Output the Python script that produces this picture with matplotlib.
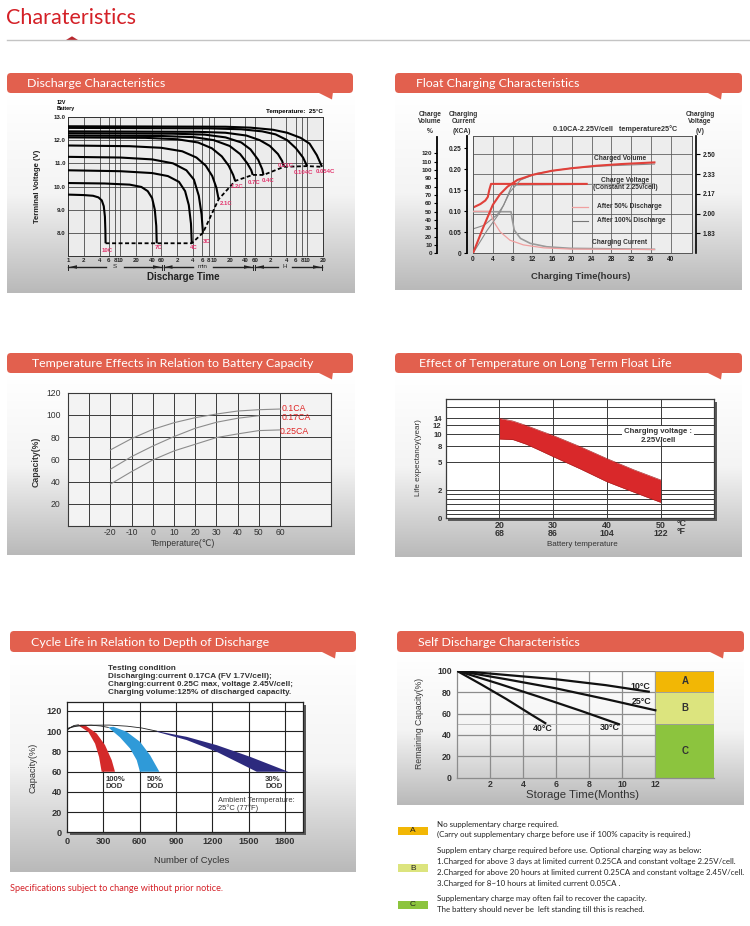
import numpy as np
import matplotlib
matplotlib.use('Agg')
import matplotlib.pyplot as plt
from matplotlib.patches import FancyBboxPatch, Polygon, Rectangle
from matplotlib.colors import LinearSegmentedColormap
from matplotlib.ticker import NullLocator

plt.rcParams['font.family'] = ['Liberation Sans', 'DejaVu Sans']
plt.rcParams['axes.unicode_minus'] = False

# ======================= DATA =======================
page_title = "Charateristics"

# --- Discharge characteristics (time in seconds, terminal voltage in V)
dis_rate_labels = ['10C', '7C', '4C', '3C', '2.1C', '1.2C', '0.7C', '0.4C', '0.21C', '0.104C', '0.054C']
dis_time_s = [
    [1, 2, 3, 3.8, 4.4, 4.8, 5.05, 5.15, 5.2],
    [1, 5, 15, 25, 33, 40, 45, 48, 49],
    [1, 10, 40, 80, 130, 170, 200, 220, 228],
    [1, 10, 40, 100, 180, 250, 310, 350, 372],
    [1, 15, 60, 150, 280, 420, 560, 670, 740],
    [1, 30, 120, 300, 550, 850, 1150, 1400, 1530],
    [1, 60, 250, 600, 1200, 1900, 2600, 3100, 3300],
    [1, 100, 400, 1000, 2000, 3000, 4200, 5000, 5300],
    [1, 300, 1000, 2500, 4500, 7000, 10000, 12000, 13000],
    [1, 500, 2000, 5000, 9000, 15000, 22000, 30000, 35800],
    [1, 1000, 3000, 8000, 15000, 27000, 40000, 55000, 69000],
]
dis_volt = [
    [9.65, 9.63, 9.6, 9.53, 9.4, 9.15, 8.7, 8.1, 7.55],
    [10.15, 10.13, 10.08, 9.98, 9.8, 9.5, 9.0, 8.3, 7.55],
    [10.7, 10.66, 10.58, 10.45, 10.2, 9.8, 9.2, 8.4, 7.55],
    [11.28, 11.25, 11.17, 11.0, 10.7, 10.3, 9.6, 8.8, 8.0],
    [11.77, 11.74, 11.67, 11.52, 11.25, 10.9, 10.45, 9.95, 9.45],
    [12.12, 12.1, 12.04, 11.9, 11.65, 11.3, 10.9, 10.5, 10.24],
    [12.2, 12.18, 12.13, 12.0, 11.75, 11.4, 11.0, 10.7, 10.5],
    [12.3, 12.28, 12.24, 12.12, 11.9, 11.6, 11.15, 10.75, 10.5],
    [12.38, 12.36, 12.32, 12.2, 12.0, 11.75, 11.4, 11.1, 10.85],
    [12.53, 12.51, 12.47, 12.38, 12.25, 12.0, 11.65, 11.25, 10.88],
    [12.6, 12.58, 12.54, 12.45, 12.32, 12.1, 11.85, 11.35, 10.85],
]
dis_xticks_s = [1, 2, 4, 6, 8, 10, 20, 40, 60,
                120, 240, 360, 480, 600, 1200, 2400, 3600,
                7200, 14400, 21600, 28800, 36000, 72000]
dis_xtick_labels = ['1', '2', '4', '6', '8', '10', '20', '40', '60',
                    '2', '4', '6', '8', '10', '20', '40', '60',
                    '2', '4', '6', '8', '10', '20']
dis_yticks = [8, 9, 10, 11, 12, 13]
dis_ytick_labels = ['8.0', '9.0', '10.0', '11.0', '12.0', '13.0']

# --- Float charging characteristics (hours)
fc_h_vol50 = [0, 2, 4, 5.5, 7, 9, 12, 16, 20, 25, 30, 36.7]
fc_pct_vol50 = [0, 30, 58, 71, 80, 88, 94, 99, 102, 105, 107, 109]
fc_h_vol100 = [0, 2.8, 5.5, 7.5, 9.6, 12.9, 19.7, 26.4, 36.7]
fc_pct_vol100 = [0, 27, 49.5, 73.7, 87.8, 95.9, 102, 104.7, 107]
fc_h_v50 = [0, 1.5, 2.5, 3.0, 3.3, 3.65, 23]
fc_volt_v50 = [2.05, 2.08, 2.11, 2.14, 2.2, 2.25, 2.25]
fc_h_v100 = [0, 2.2, 4.9, 6.2, 7.2, 7.9, 36.7]
fc_volt_v100 = [1.87, 1.90, 1.99, 2.07, 2.17, 2.24, 2.25]
fc_h_i50 = [0, 3.2, 3.6, 4.2, 5.5, 7.5, 10.2, 14.3, 19.7, 36.7]
fc_cur_i50 = [0.10, 0.10, 0.093, 0.075, 0.051, 0.031, 0.020, 0.013, 0.010, 0.009]
fc_h_i100 = [0, 7.7, 7.9, 8.35, 9.6, 11.6, 14.9, 19.7, 36.7]
fc_cur_i100 = [0.099, 0.099, 0.083, 0.055, 0.0355, 0.0236, 0.0156, 0.0118, 0.0095]
fc_xticks = [0, 4, 8, 12, 16, 20, 24, 28, 32, 36, 40]
fc_cur_ticks = [0, 0.05, 0.10, 0.15, 0.20, 0.25]
fc_cur_labels = ['0', '0.05', '0.10', '0.15', '0.20', '0.25']
fc_pct_ticks = [0, 10, 20, 30, 40, 50, 60, 70, 80, 90, 100, 110, 120]
fc_volt_ticks = [1.8333, 2.0, 2.1667, 2.3333, 2.5]
fc_volt_labels = ['1.83', '2.00', '2.17', '2.33', '2.50']

# --- Temperature effects on capacity
te_temp = [-20, -10, 0, 10, 20, 30, 40, 50, 60]
te_cap_01 = [68.5, 78.7, 87, 93, 97.5, 100.8, 103.5, 104.7, 105.3]
te_temp_017 = [-20, -10, 0, 10, 20, 30, 40, 50]
te_cap_017 = [51.1, 62.5, 72, 80.5, 88, 93.4, 97, 99.3]
te_cap_025 = [37.7, 49, 59.5, 67.6, 73.6, 79.6, 82.9, 85.9, 86.5]
te_labels = ['0.1CA', '0.17CA', '0.25CA']
te_xticks = [-20, -10, 0, 10, 20, 30, 40, 50, 60]
te_yticks = [20, 40, 60, 80, 100, 120]

# --- Float life vs temperature
fl_temp = [20, 22.5, 25, 27.5, 30, 35, 40, 45, 50]
fl_upper = [14, 13.2, 11.9, 10.8, 9.8, 7.9, 5.7, 4.2, 3.1]
fl_lower = [9.2, 9.1, 8.3, 7.2, 6.05, 4.3, 2.9, 1.85, 1.13]
fl_yticks = [0, 2, 5, 8, 10, 12, 14]
fl_xticks = [20, 30, 40, 50]
fl_xtick_labels = ['20\n68', '30\n86', '40\n104', '50\n122']

# --- Cycle life vs DOD
cl_red_left_x = [96, 110, 179, 234, 267, 288]
cl_red_left_y = [106.2, 104.5, 99, 87.5, 74.3, 59.8]
cl_red_right_x = [151, 247, 316, 371, 398]
cl_red_right_y = [105.8, 97.6, 86.1, 71.3, 59.8]
cl_blue_left_x = [343, 440, 522, 577, 604]
cl_blue_left_y = [103.6, 93.7, 82.8, 71.3, 59.8]
cl_blue_right_x = [385, 494, 604, 687, 764]
cl_blue_right_y = [104.2, 99.3, 89.4, 76.2, 59.8]
cl_navy_left_x = [742, 989, 1236, 1401, 1566]
cl_navy_left_y = [99.3, 91.1, 79.5, 69.7, 59.8]
cl_navy_right_x = [742, 989, 1236, 1511, 1827]
cl_navy_right_y = [99.9, 94.3, 86.1, 74.6, 59.8]
cl_line1_x = [0, 30, 60, 96]
cl_line1_y = [100.5, 103.5, 105.5, 106.2]
cl_line2_x = [0, 50, 120, 200, 280, 343]
cl_line2_y = [101.5, 104.5, 105.8, 105.8, 105, 103.6]
cl_line3_x = [0, 80, 200, 350, 500, 620, 742]
cl_line3_y = [102.5, 104.8, 105.8, 105.9, 104.8, 103, 99.9]
cl_xticks = [0, 300, 600, 900, 1200, 1500, 1800]
cl_yticks = [0, 20, 40, 60, 80, 100, 120]

# --- Self discharge
sd_m_10 = [0, 3, 6, 9, 11.6]
sd_p_10 = [100, 96, 92, 86.5, 80.4]
sd_m_25 = [0, 3, 6, 9, 12]
sd_p_25 = [100, 92, 83.5, 73.5, 63]
sd_m_30 = [0, 2.5, 5, 7.5, 9.8]
sd_p_30 = [100, 88, 75.5, 62.5, 50]
sd_m_40 = [0, 1.5, 3, 4.5, 5.35]
sd_p_40 = [100, 87, 73.5, 59, 51]
sd_zone_names = ['A', 'B', 'C']
sd_zone_bottom = [80, 50, 0]
sd_zone_top = [100, 80, 50]
sd_xticks = [2, 4, 6, 8, 10, 12]
sd_yticks = [0, 20, 40, 60, 80, 100]

# ======================= STYLE / LAYOUT =======================
W, H = 750, 926
PT = 0.72          # points per pixel at dpi 100
BANNER = '#e2604e'
RED = '#d42027'
PINK = '#e2336c'
TITLE_FONT = ['Lato', 'DejaVu Sans']
NOTE_FONT = ['Lato', 'DejaVu Sans']

fig = plt.figure(figsize=(W / 100, H / 100), dpi=100)
fig.patch.set_facecolor('white')


def axpx(x0, y0, x1, y1, **kw):
    return fig.add_axes([x0 / W, 1 - y1 / H, (x1 - x0) / W, (y1 - y0) / H], **kw)


bg = axpx(0, 0, W, H, zorder=0)
bg.axis('off')
fg = axpx(0, 0, W, H, zorder=20)
fg.axis('off')
fg.patch.set_alpha(0)
for a in (bg, fg):
    a.set_xlim(0, W)
    a.set_ylim(H, 0)

gcmap = LinearSegmentedColormap.from_list('g', ['#ffffff', '#f4f4f4', '#b9b9b9'])


def gradient(x0, y0, x1, y1):
    grad = np.linspace(0, 1, 256).reshape(-1, 1)
    bg.imshow(grad, extent=(x0, x1, y1, y0), origin='upper', cmap=gcmap,
              aspect='auto', zorder=1, interpolation='bilinear')


def banner(x0, y0, x1, y1, title, tx):
    bg.add_patch(FancyBboxPatch((x0, y0), x1 - x0, y1 - y0,
                                boxstyle='round,pad=0,rounding_size=4',
                                fc=BANNER, ec='none', zorder=3))
    bg.add_patch(Polygon([(x1 - 36, y1 - 1), (x1 - 20, y1 - 1), (x1 - 21, y1 + 6.5)],
                         closed=True, fc=BANNER, ec='none', zorder=3))
    bg.text(tx, (y0 + y1) / 2 + 0.5, title, color='white', fontsize=8.9,
            family=TITLE_FONT, va='center', ha='left', zorder=4)


def shadow(x0, y0, x1, y1, d=3):
    bg.add_patch(Rectangle((x0 + d, y0 + d), x1 - x0, y1 - y0, fc='#5a5a5a', ec='none', zorder=2))


# header
bg.text(6, 18.5, page_title, color=RED, fontsize=15.5, family=TITLE_FONT, va='center', ha='left')
bg.plot([7, 750], [40, 40], color='#c4c4c4', lw=1)
bg.add_patch(Polygon([(66, 40), (72, 36.3), (78, 40)], closed=True, fc='#b8262c', ec='none'))

# panel backgrounds
gradient(7, 96, 355, 293)
gradient(395, 96, 742, 290)
gradient(7, 376, 355, 555)
gradient(395, 376, 742, 557)
gradient(10, 655, 356, 872)
gradient(397, 655, 744, 805)
banner(7, 73, 353, 93, 'Discharge Characteristics', 27)
banner(395, 73, 742, 93, 'Float Charging Characteristics', 416)
banner(7, 353, 353, 373, 'Temperature Effects in Relation to Battery Capacity', 32)
banner(395, 353, 742, 373, 'Effect of Temperature on Long Term Float Life', 419)
banner(10, 631, 356, 652, 'Cycle Life in Relation to Depth of Discharge', 31)
banner(397, 631, 744, 652, 'Self Discharge Characteristics', 418)


def bold_ticks(ax, size, color='#222'):
    for lab in ax.get_xticklabels() + ax.get_yticklabels():
        lab.set_fontweight('bold')
        lab.set_fontsize(size)
        lab.set_color(color)


# ======================= PANEL 1: Discharge =======================
ax1 = axpx(68, 117, 323, 256, zorder=5)
ax1.set_xscale('log')
ax1.set_xlim(1, 72000)
ax1.set_ylim(7, 13)
ax1.set_facecolor('#ececec')
ax1.set_xticks(dis_xticks_s)
ax1.set_xticklabels(dis_xtick_labels)
ax1.xaxis.set_minor_locator(NullLocator())
ax1.set_yticks(dis_yticks)
ax1.set_yticklabels(dis_ytick_labels)
ax1.grid(True, color='#3a3a3a', lw=0.55)
ax1.set_axisbelow(True)
ax1.tick_params(length=0, pad=1.6)
bold_ticks(ax1, 4.4)
for s in ax1.spines.values():
    s.set_color('#333')
    s.set_linewidth(0.7)
end_t, end_v = [], []
label_offsets = [(2, -7), (2, -4.5), (2, -4.5), (4, -9), (7.5, -4), (2, -6),
                 (1, -7.5), (5, -6), (2, 1), (-4, -6), (3, -5)]
for t, v, lab, off in zip(dis_time_s, dis_volt, dis_rate_labels, label_offsets):
    ax1.plot(t, v, color='black', lw=1.5, solid_capstyle='butt', zorder=3)
    end_t.append(t[-1])
    end_v.append(v[-1])
    ax1.annotate(lab, (t[-1], v[-1]), xytext=off, textcoords='offset pixels',
                 ha='center', va='center', color=PINK, fontsize=4.3, fontweight='bold',
                 annotation_clip=False, zorder=6)
ax1.plot(end_t, end_v, color='black', lw=1.3, ls=(0, (2.2, 1.4)), zorder=4)

fg.text(57, 102.7, '12V', fontsize=3.8, fontweight='bold', va='center', ha='left')
fg.text(57, 108.3, 'Battery', fontsize=3.8, fontweight='bold', va='center', ha='left')
fg.text(323, 111.7, 'Temperature:  25°C', fontsize=4.5, fontweight='bold', va='center', ha='right')
fg.text(37.5, 186, 'Terminal Voltage (V)', fontsize=5.6, fontweight='bold', rotation=90,
        va='center', ha='center', color='#222')
fg.text(183, 277, 'Discharge Time', fontsize=7, fontweight='bold', va='center', ha='center', color='#222')
for x0, x1, lab, lx, gap in [(68, 162, 'S', 115, 9), (163.5, 253, 'min', 203, 10), (255, 322, 'H', 285, 7)]:
    y = 267
    fg.plot([x0, lx - gap], [y, y], color='#222', lw=1.0)
    fg.plot([lx + gap, x1], [y, y], color='#222', lw=1.0)
    fg.plot([x0, x0], [y - 2.5, y + 2.5], color='#222', lw=0.7)
    fg.plot([x1, x1], [y - 2.5, y + 2.5], color='#222', lw=0.7)
    fg.add_patch(Polygon([(x0 + 1.5, y), (x0 + 9, y - 1.8), (x0 + 9, y + 1.8)], fc='#222', ec='none'))
    fg.add_patch(Polygon([(x1 - 1.5, y), (x1 - 9, y - 1.8), (x1 - 9, y + 1.8)], fc='#222', ec='none'))
    fg.text(lx, y, lab, fontsize=4.5, ha='center', va='center', color='#222')

# ======================= PANEL 2: Float charging =======================
axv = axpx(473, 135.7, 692, 253.3, zorder=5)
ax2 = axv.twinx()
axp = axv.twinx()
axv.set_xlim(0, 44.3)
axv.set_ylim(1.664, 2.657)
axv.set_facecolor('#ededed')
axv.set_xticks(fc_xticks)
axv.set_yticks(fc_volt_ticks)
axv.set_yticklabels(fc_volt_labels)
axv.yaxis.tick_right()
axv.grid(True, color='#555', lw=0.55)
axv.set_axisbelow(True)
axv.spines['right'].set_position(('outward', 4 * PT))
axv.spines['right'].set_linewidth(1.2)
for s in ['top', 'bottom', 'left']:
    axv.spines[s].set_color('#555')
    axv.spines[s].set_linewidth(0.7)
axv.plot([1, 1], [0, 1], transform=axv.transAxes, color='#555', lw=0.7, clip_on=False)
axv.tick_params(axis='y', direction='out', length=4 * PT, width=0.8, pad=2)
axv.tick_params(axis='x', length=0, pad=2.2)
bold_ticks(axv, 4.7)

ax2.set_ylim(0, 0.28)
ax2.yaxis.tick_left()
ax2.set_yticks(fc_cur_ticks)
ax2.set_yticklabels(fc_cur_labels)
for s in ['top', 'right', 'bottom']:
    ax2.spines[s].set_visible(False)
ax2.spines['left'].set_visible(True)
ax2.spines['left'].set_position(('outward', 6 * PT))
ax2.spines['left'].set_linewidth(1.3)
ax2.tick_params(axis='y', direction='out', length=3.5 * PT, width=0.8, pad=1.5)
bold_ticks(ax2, 4.7)

axp.set_ylim(0, 141)
axp.yaxis.tick_left()
axp.set_yticks(fc_pct_ticks)
axp.set_yticklabels([str(v) for v in fc_pct_ticks])
for s in ['top', 'right', 'bottom']:
    axp.spines[s].set_visible(False)
axp.spines['left'].set_visible(True)
axp.spines['left'].set_position(('outward', 36 * PT))
axp.spines['left'].set_bounds(0, 139)
axp.spines['left'].set_linewidth(1.3)
axp.tick_params(axis='y', direction='out', length=3.5 * PT, width=0.8, pad=1)
bold_ticks(axp, 4.5)

axv.plot(fc_h_v100, fc_volt_v100, color='#8a8a8a', lw=0.8)
axv.plot(fc_h_v50, fc_volt_v50, color='#e0403a', lw=1.5)
ax2.plot(fc_h_i100, fc_cur_i100, color='#9a9a9a', lw=1.2)
ax2.plot(fc_h_i50, fc_cur_i50, color='#f0a0a0', lw=0.9)
axp.plot(fc_h_vol100, fc_pct_vol100, color='#8a8a8a', lw=0.8)
axp.plot(fc_h_vol50, fc_pct_vol50, color='#e0403a', lw=1.5)

fg.plot([571.5, 588], [206.7, 206.7], color='#f0a0a0', lw=0.9)
fg.plot([571.5, 588], [220.7, 220.7], color='#777', lw=0.8)
ptxt = dict(fontsize=4.8, fontweight='bold', color='#333', va='center')
fg.text(597, 206.7, 'After 50% Discharge', ha='left', **ptxt)
fg.text(597, 220.7, 'After 100% Discharge', ha='left', **ptxt)
fg.text(620, 159, 'Charged Volume', ha='center', **ptxt)
fg.text(625, 180.5, 'Charge Voltage', ha='center', **ptxt)
fg.text(625, 187.5, '(Constant 2.25v/cell)', ha='center', **ptxt)
fg.text(620, 242.5, 'Charging Current', ha='center', **ptxt)
fg.text(615, 129, '0.10CA-2.25V/cell   temperature25°C', ha='center',
        **dict(ptxt, fontsize=5.2))
for x, l1, l2, l3 in [(430, 'Charge', 'Volume', '%'), (463.5, 'Charging', 'Current', '(XCA)'),
                      (700, 'Charging', 'Voltage', '(V)')]:
    fg.text(x, 115, l1, ha='center', **ptxt)
    fg.text(x, 121.5, l2, ha='center', **ptxt)
    fg.text(x - (2 if l3 == '(XCA)' else 0), 131.7, l3, ha='center', **ptxt)
fg.text(581, 276.5, 'Charging Time(hours)', fontsize=6.8, fontweight='bold', color='#333',
        va='center', ha='center')

# ======================= PANEL 3: Temperature effects =======================
ax3 = axpx(68, 392.7, 331, 526, zorder=5)
ax3.set_xlim(-40, 84)
ax3.set_ylim(0, 120)
ax3.set_facecolor('#f3f3f3')
ax3.set_xticks(te_xticks)
ax3.set_yticks(te_yticks)
ax3.tick_params(length=0)
ax3.tick_params(axis='y', pad=5.3)
ax3.tick_params(axis='x', pad=1.7)
for x in range(-30, 70, 10):
    ax3.axvline(x, color='#3a3a3a', lw=0.7, zorder=1)
for y in te_yticks[:-1]:
    ax3.axhline(y, color='#3a3a3a', lw=0.7, zorder=1)
for s in ax3.spines.values():
    s.set_color('#3a3a3a')
    s.set_linewidth(0.8)
bold_ticks(ax3, 6.2, '#333')
for lab in ax3.get_xticklabels() + ax3.get_yticklabels():
    lab.set_fontweight('normal')
ax3.plot(te_temp, te_cap_01, color='#8c8c8c', lw=0.8, zorder=3)
ax3.plot(te_temp_017, te_cap_017, color='#8c8c8c', lw=0.8, zorder=3)
ax3.plot(te_temp, te_cap_025, color='#8c8c8c', lw=0.8, zorder=3)
for lab, (x, y) in zip(te_labels, [(281.5, 408.3), (281.5, 417.7), (279.3, 431.7)]):
    fg.text(x, y, lab, color='#e02424', fontsize=6.3, ha='left', va='center')
fg.text(36, 461.5, 'Capacity(%)', fontsize=6.3, fontweight='bold', rotation=90, color='#333',
        ha='center', va='center')
fg.text(183, 543.5, 'Temperature(℃)', fontsize=6.2, color='#333', ha='center', va='center')

# ======================= PANEL 4: Float life =======================
fl_pos_vals = [0, 2, 5, 8, 10, 12, 14, 20]
fl_pos = [0, 0.237, 0.469, 0.606, 0.704, 0.782, 0.838, 1.0]
shadow(445.7, 399, 714.3, 518.3, d=2.5)
ax4 = axpx(445.7, 399, 714.3, 518.3, zorder=5)
ax4.set_yscale('function', functions=(lambda v: np.interp(v, fl_pos_vals, fl_pos),
                                      lambda p: np.interp(p, fl_pos, fl_pos_vals)))
ax4.set_xlim(10, 60)
ax4.set_ylim(0, 20)
ax4.set_facecolor('white')
ax4.set_yticks(fl_yticks)
ax4.set_yticklabels([str(v) for v in fl_yticks])
ax4.yaxis.set_minor_locator(NullLocator())
ax4.set_xticks(fl_xticks)
ax4.set_xticklabels(fl_xtick_labels, linespacing=0.85)
ax4.tick_params(length=0)
ax4.tick_params(axis='y', pad=2.9)
ax4.tick_params(axis='x', pad=2.2)
bold_ticks(ax4, 6.4, '#333')
for lab in ax4.get_yticklabels():
    lab.set_fontsize(5.6)
for y in [0.31, 0.59, 0.99, 1.34, 1.70, 2, 5, 8, 10, 12, 14, 17.6]:
    ax4.axhline(y, color='#3a3a3a', lw=0.7, zorder=1)
for x in fl_xticks:
    ax4.axvline(x, color='#3a3a3a', lw=0.7, zorder=1)
for s in ax4.spines.values():
    s.set_color('#3a3a3a')
    s.set_linewidth(0.9)
ax4.fill_between(fl_temp, fl_lower, fl_upper, color='#d9282a', lw=0, zorder=3)
ax4.plot(fl_temp, fl_upper, color='#a01a1a', lw=0.4, zorder=3)
ax4.plot(fl_temp, fl_lower, color='#a01a1a', lw=0.4, zorder=3)
fg.text(658, 431.7, 'Charging voltage :', fontsize=5.6, fontweight='bold', color='#333',
        ha='center', va='center', bbox=dict(fc='white', ec='none', pad=1.5))
fg.text(658, 440, '2.25V/cell', fontsize=5.6, fontweight='bold', color='#333', ha='center', va='center')
fg.text(681.5, 523, '°C', fontsize=6.4, fontweight='bold', color='#333', ha='center', va='center')
fg.text(681.5, 531, '°F', fontsize=6.4, fontweight='bold', color='#333', ha='center', va='center')
fg.text(418.5, 458, 'Life expectancy(year)', fontsize=5.8, rotation=90, color='#333',
        ha='center', va='center')
fg.text(582, 544, 'Battery temperature', fontsize=5.8, color='#333', ha='center', va='center')

# ======================= PANEL 5: Cycle life =======================
shadow(66.7, 701.7, 303.3, 832.3, d=3)
ax5 = axpx(66.7, 701.7, 303.3, 832.3, zorder=5)
ax5.set_xlim(0, 1950)
ax5.set_ylim(0, 129)
ax5.set_facecolor('white')
ax5.set_xticks(cl_xticks)
ax5.set_yticks(cl_yticks)
ax5.tick_params(length=0)
ax5.tick_params(axis='y', pad=3.6)
ax5.tick_params(axis='x', pad=3.3)
bold_ticks(ax5, 6.6, '#333')
for x in cl_xticks[1:]:
    ax5.axvline(x, color='#222', lw=0.8, zorder=1)
for y in cl_yticks[1:]:
    ax5.axhline(y, color='#222', lw=0.8, zorder=1)
for s in ax5.spines.values():
    s.set_color('#222')
    s.set_linewidth(0.9)
ax5.fill(cl_red_left_x + cl_red_right_x[::-1], cl_red_left_y + cl_red_right_y[::-1],
         color='#d42a2a', lw=0, zorder=3)
ax5.fill(cl_blue_left_x + cl_blue_right_x[::-1], cl_blue_left_y + cl_blue_right_y[::-1],
         color='#2f9ad8', lw=0, zorder=3)
ax5.fill(cl_navy_left_x + cl_navy_right_x[::-1], cl_navy_left_y + cl_navy_right_y[::-1],
         color='#2d2a7e', lw=0, zorder=3)
for xs, ys in [(cl_line1_x, cl_line1_y), (cl_line2_x, cl_line2_y), (cl_line3_x, cl_line3_y)]:
    ax5.plot(xs, ys, color='#222', lw=0.6, zorder=4)
ttxt = dict(fontsize=5.9, fontweight='bold', color='#333', ha='left', va='center')
for i, line in enumerate(['Testing condition',
                          'Discharging:current 0.17CA (FV 1.7V/cell);',
                          'Charging:current 0.25C max, voltage 2.45V/cell;',
                          'Charging volume:125% of discharged capacity.']):
    fg.text(108, 668.3 + i * 7.9, line, **ttxt)
dtxt = dict(fontsize=5.6, fontweight='bold', color='#333', ha='left', va='center', linespacing=0.95)
fg.text(106, 783.3, '100%\nDOD', **dtxt)
fg.text(146.7, 783.3, '50%\nDOD', **dtxt)
fg.text(265, 783.3, '30%\nDOD', **dtxt)
fg.text(218, 800, 'Ambient Termperature:', fontsize=5.4, color='#333', ha='left', va='center')
fg.text(218, 807.7, '25°C (77°F)', fontsize=5.4, color='#333', ha='left', va='center')
fg.text(33.5, 768, 'Capacity(%)', fontsize=6.6, rotation=90, color='#333', ha='center', va='center')
fg.text(191.5, 860.7, 'Number of Cycles', fontsize=6.8, color='#333', ha='center', va='center')
fg.text(10, 888.3, 'Specifications subject to change without prior notice.', fontsize=6.6,
        color=RED, family=NOTE_FONT, ha='left', va='center')

# ======================= PANEL 6: Self discharge =======================
ax6 = axpx(456.7, 670.7, 714.3, 777.7, zorder=5)
ax6.set_xlim(0, 15.56)
ax6.set_ylim(0, 100)
ax6.patch.set_alpha(0)
ax6.set_xticks(sd_xticks)
ax6.set_yticks(sd_yticks)
ax6.tick_params(length=0)
ax6.tick_params(axis='y', pad=3.6)
ax6.tick_params(axis='x', pad=1.6)
bold_ticks(ax6, 6.3, '#333')
for x in sd_xticks:
    ax6.axvline(x, ymax=1.0, color='#8c8c8c', lw=0.9, zorder=1)
for y in [20, 40, 60, 80, 100]:
    ax6.plot([0, 12], [y, y], color='#8c8c8c', lw=0.9, zorder=1)
ax6.plot([0, 12], [50, 50], color='#b5b5b5', lw=0.6, zorder=1)
for s in ['top', 'right']:
    ax6.spines[s].set_visible(False)
for s in ['left', 'bottom']:
    ax6.spines[s].set_color('#8c8c8c')
    ax6.spines[s].set_linewidth(0.9)
zone_colors = ['#f2b705', '#dce47e', '#8cc43e']
ax6.bar([12] * 3, [t - b for t, b in zip(sd_zone_top, sd_zone_bottom)], bottom=sd_zone_bottom,
        width=3.56, align='edge', color=zone_colors, edgecolor='#9a9a9a', lw=0.6, zorder=2)
for name, b, t in zip(sd_zone_names, sd_zone_bottom, sd_zone_top):
    ax6.text(13.78, (b + t) / 2, name, ha='center', va='center', fontsize=7, fontweight='bold', color='#333')
for xs, ys in [(sd_m_10, sd_p_10), (sd_m_25, sd_p_25), (sd_m_30, sd_p_30), (sd_m_40, sd_p_40)]:
    ax6.plot(xs, ys, color='#111', lw=1.6, zorder=3)
stx = dict(fontsize=6.4, fontweight='bold', color='#222', ha='center', va='center')
fg.text(640.7, 686.7, '10°C', **stx)
fg.text(641.7, 701.7, '25°C', **stx)
fg.text(609.3, 727.7, '30°C', **stx)
fg.text(542.7, 728.7, '40°C', **stx)
fg.text(419.5, 723, 'Remaining Capacity(%)', fontsize=6.2, rotation=90, color='#333',
        ha='center', va='center')
fg.text(582, 795, 'Storage Time(Months)', fontsize=8.2, color='#333', ha='center', va='center')

# legend notes below
note = dict(fontsize=5.7, color='#222', family=NOTE_FONT, ha='left', va='center')
for name, col, (y0, y1) in zip(sd_zone_names, zone_colors, [(826.7, 835), (864.3, 872), (901, 909)]):
    fg.add_patch(Rectangle((398.3, y0), 29.4, y1 - y0, fc=col, ec='none'))
    fg.text(413, (y0 + y1) / 2, name, fontsize=6, color='#222', ha='center', va='center')
fg.text(437.3, 824, 'No supplementary charge required.', **note)
fg.text(437.3, 834.5, '(Carry out supplementary charge before use if 100% capacity is required.)', **note)
fg.text(437.3, 851, 'Supplem entary charge required before use. Optional charging way as below:', **note)
fg.text(437.3, 861.7, '1.Charged for above 3 days at limited current 0.25CA and constant voltage 2.25V/cell.', **note)
fg.text(437.3, 872.3, '2.Charged for above 20 hours at limited current 0.25CA and constant voltage 2.45V/cell.', **note)
fg.text(437.3, 883.3, '3.Charged for 8~10 hours at limited current 0.05CA .', **note)
fg.text(437.3, 899, 'Supplementary charge may often fail to recover the capacity.', **note)
fg.text(437.3, 909.3, 'The battery should never be  left standing till this is reached.', **note)

fig.savefig('out.png', dpi=100, facecolor='white')
